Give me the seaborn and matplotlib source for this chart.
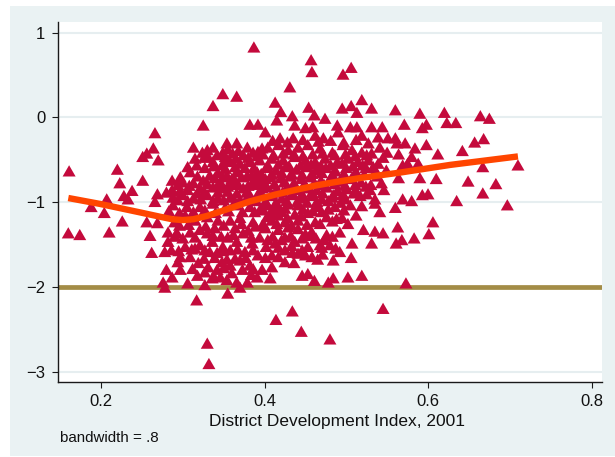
import matplotlib
matplotlib.use("Agg")
import matplotlib.pyplot as plt
import pandas as pd
import seaborn as sns
from matplotlib.markers import MarkerStyle
from matplotlib.patches import Rectangle
from matplotlib.path import Path

# ---------------------------------------------------------------------------
# District scatter: development index (x) against outcome (y), by area of the cloud
# ---------------------------------------------------------------------------
west_x = [0.161, 0.160, 0.174, 0.188, 0.204, 0.207, 0.210, 0.220, 0.223, 0.226,
          0.228, 0.233, 0.238, 0.251, 0.251, 0.256, 0.264, 0.266, 0.270, 0.260,
          0.262, 0.278, 0.280, 0.287, 0.276, 0.278, 0.256, 0.269]
west_y = [-0.63, -1.36, -1.38, -1.05, -1.12, -0.96, -1.35, -0.61, -0.77, -1.22,
          -0.92, -0.96, -0.86, -0.46, -0.74, -0.42, -0.36, -0.18, -0.50, -1.39,
          -1.59, -1.58, -1.79, -1.88, -1.94, -2.00, -1.23, -1.24]

top_x = [0.387, 0.457, 0.458, 0.506, 0.496, 0.431, 0.337, 0.349, 0.366, 0.325,
         0.382, 0.392, 0.413, 0.420, 0.415, 0.454, 0.461, 0.474, 0.434, 0.437,
         0.495, 0.506, 0.519, 0.513, 0.531]
top_y = [0.83, 0.68, 0.54, 0.59, 0.51, 0.36, 0.14, 0.28, 0.25, -0.09,
         -0.08, -0.08, 0.18, 0.07, -0.03, 0.12, 0.03, -0.01, 0.02, -0.09,
         0.11, 0.14, 0.21, 0.06, 0.11]

core_nw_x = [0.313, 0.324, 0.315, 0.317, 0.337, 0.354, 0.366, 0.379, 0.342, 0.349,
             0.361, 0.374, 0.386, 0.397, 0.337, 0.348, 0.358, 0.370, 0.382, 0.394,
             0.287, 0.300, 0.313, 0.325, 0.333, 0.343, 0.354, 0.366, 0.379, 0.391,
             0.337, 0.349, 0.361, 0.374, 0.386, 0.397, 0.269, 0.287, 0.288, 0.300,
             0.313, 0.330, 0.343, 0.358, 0.370, 0.382, 0.327, 0.309, 0.306, 0.321,
             0.354, 0.376, 0.388, 0.364, 0.346, 0.401, 0.331]
core_nw_y = [-0.35, -0.41, -0.48, -0.56, -0.35, -0.30, -0.30, -0.35, -0.44, -0.41,
             -0.42, -0.44, -0.41, -0.36, -0.52, -0.56, -0.52, -0.54, -0.52, -0.50,
             -0.74, -0.76, -0.77, -0.74, -0.68, -0.65, -0.68, -0.64, -0.68, -0.64,
             -0.82, -0.83, -0.79, -0.83, -0.79, -0.83, -0.90, -0.85, -0.94, -0.91,
             -0.95, -0.91, -0.95, -0.94, -0.97, -0.91, -0.59, -0.64, -0.85, -0.83,
             -0.50, -0.59, -0.72, -0.74, -0.76, -0.72, -0.46]

nw_fill_x = [0.330, 0.355, 0.368, 0.392,
             0.326, 0.352, 0.365, 0.380, 0.391,
             0.306, 0.338, 0.352, 0.364, 0.387,
             0.297, 0.318, 0.339, 0.349, 0.360, 0.372, 0.384, 0.396,
             0.294, 0.308, 0.330, 0.343, 0.355, 0.368, 0.380, 0.392,
             0.280, 0.296, 0.318, 0.327, 0.343, 0.355, 0.366, 0.378, 0.392,
             0.294, 0.306, 0.322, 0.337, 0.350, 0.364, 0.377, 0.390]
nw_fill_y = [-0.38, -0.37, -0.39, -0.40,
             -0.47, -0.46, -0.48, -0.47, -0.45,
             -0.58, -0.57, -0.60, -0.58, -0.59,
             -0.70, -0.69, -0.71, -0.70, -0.72, -0.70, -0.69, -0.71,
             -0.79, -0.80, -0.78, -0.79, -0.81, -0.79, -0.80, -0.78,
             -0.88, -0.87, -0.89, -0.88, -0.88, -0.87, -0.89, -0.88, -0.90,
             -0.97, -0.98, -0.96, -0.98, -0.97, -0.99, -0.97, -0.98]

core_sw_x = [0.266, 0.288, 0.305, 0.321, 0.337, 0.352, 0.366, 0.382, 0.394, 0.330,
             0.343, 0.358, 0.370, 0.386, 0.282, 0.293, 0.300, 0.309, 0.330, 0.282,
             0.321, 0.336, 0.342, 0.349, 0.355, 0.366, 0.374, 0.385, 0.394, 0.348,
             0.358, 0.370, 0.382, 0.392, 0.397, 0.309, 0.319, 0.331, 0.297, 0.327,
             0.342, 0.360, 0.354, 0.297, 0.294, 0.306, 0.327, 0.336, 0.346, 0.366,
             0.370, 0.379, 0.391, 0.315, 0.303, 0.290, 0.339, 0.364, 0.380, 0.315,
             0.333, 0.358, 0.376, 0.303, 0.321, 0.397, 0.388]
core_sw_y = [-0.99, -1.03, -1.05, -1.05, -1.01, -1.06, -1.03, -1.05, -1.09, -1.17,
             -1.21, -1.21, -1.18, -1.23, -1.35, -1.36, -1.42, -1.35, -1.36, -1.46,
             -1.50, -1.46, -1.59, -1.52, -1.41, -1.46, -1.36, -1.48, -1.41, -1.70,
             -1.74, -1.68, -1.74, -1.62, -1.79, -1.64, -1.71, -1.76, -1.79, -1.82,
             -1.79, -1.83, -1.91, -1.64, -1.70, -1.95, -1.97, -1.89, -1.88, -1.94,
             -2.00, -1.94, -1.88, -1.21, -1.15, -1.23, -1.30, -1.30, -1.33, -1.54,
             -1.58, -1.56, -1.58, -1.52, -1.32, -1.27, -1.11]

sw_fill_x = [0.283, 0.296, 0.313, 0.327, 0.340, 0.356, 0.373,
             0.296, 0.307, 0.328, 0.350, 0.372, 0.389,
             0.290, 0.315, 0.337, 0.347, 0.362, 0.384,
             0.286, 0.295, 0.311, 0.327, 0.349, 0.367, 0.386,
             0.326, 0.339, 0.354, 0.364, 0.377,
             0.312, 0.350, 0.373, 0.386,
             0.318, 0.338, 0.384]
sw_fill_y = [-1.10, -1.12, -1.11, -1.09, -1.12, -1.10, -1.11,
             -1.27, -1.26, -1.28, -1.27, -1.25, -1.28,
             -1.40, -1.41, -1.39, -1.40, -1.38, -1.41,
             -1.56, -1.57, -1.55, -1.56, -1.57, -1.55, -1.56,
             -1.66, -1.65, -1.67, -1.66, -1.65,
             -1.78, -1.77, -1.79, -1.78,
             -1.86, -1.87, -1.85]

core_ne_x = [0.401, 0.419, 0.435, 0.450, 0.459, 0.462, 0.472, 0.489, 0.490, 0.505,
             0.513, 0.519, 0.531, 0.544, 0.539, 0.551,
             0.404, 0.417, 0.429, 0.441, 0.453, 0.468, 0.483, 0.496, 0.507, 0.519,
             0.531, 0.541, 0.550,
             0.409, 0.423, 0.437, 0.450, 0.462, 0.474, 0.489, 0.502, 0.514, 0.527,
             0.539,
             0.402, 0.414, 0.426, 0.439, 0.451, 0.463, 0.475, 0.487, 0.500, 0.512,
             0.524, 0.536, 0.549,
             0.407, 0.420, 0.432, 0.445, 0.457, 0.469, 0.481, 0.494, 0.506, 0.518,
             0.530, 0.543,
             0.403, 0.415, 0.428, 0.440, 0.452, 0.464, 0.476, 0.489, 0.501, 0.513,
             0.529, 0.546,
             0.409, 0.421, 0.434, 0.446, 0.458, 0.470, 0.483, 0.499, 0.517, 0.535]
core_ne_y = [-0.17, -0.24, -0.24, -0.12, -0.11, -0.21, -0.24, -0.09, -0.17, -0.11,
             -0.11, -0.21, -0.11, -0.11, -0.23, -0.24,
             -0.35, -0.32, -0.38, -0.35, -0.32, -0.36, -0.41, -0.32, -0.38, -0.41,
             -0.42, -0.35, -0.41,
             -0.48, -0.50, -0.46, -0.50, -0.52, -0.48, -0.52, -0.48, -0.52, -0.50,
             -0.54,
             -0.59, -0.62, -0.58, -0.61, -0.58, -0.62, -0.59, -0.63, -0.59, -0.64,
             -0.59, -0.63, -0.62,
             -0.70, -0.71, -0.69, -0.72, -0.70, -0.74, -0.71, -0.75, -0.72, -0.76,
             -0.79, -0.77,
             -0.82, -0.84, -0.81, -0.85, -0.83, -0.85, -0.82, -0.86, -0.84, -0.88,
             -0.85, -0.85,
             -0.92, -0.95, -0.91, -0.95, -0.92, -0.96, -0.94, -0.96, -0.92, -0.96]

ne_fill_x = [0.410, 0.428, 0.447, 0.466, 0.481, 0.497, 0.512, 0.527,
             0.398, 0.411, 0.423, 0.436, 0.447, 0.459, 0.471, 0.486, 0.499, 0.511,
             0.525, 0.545,
             0.404, 0.417, 0.430, 0.444, 0.457, 0.469, 0.481, 0.495, 0.508, 0.520,
             0.533,
             0.396, 0.409, 0.421, 0.433, 0.446, 0.458, 0.470, 0.483, 0.497, 0.509,
             0.522, 0.538,
             0.400, 0.412, 0.424, 0.436, 0.449, 0.461, 0.473, 0.486, 0.498, 0.511,
             0.524,
             0.396, 0.409, 0.422, 0.434, 0.446, 0.458, 0.471, 0.484, 0.496, 0.509,
             0.525,
             0.401, 0.414, 0.427, 0.440, 0.452, 0.464, 0.478, 0.493]
ne_fill_y = [-0.27, -0.29, -0.26, -0.28, -0.27, -0.29, -0.26, -0.30,
             -0.43, -0.44, -0.42, -0.43, -0.45, -0.43, -0.42, -0.44, -0.43, -0.45,
             -0.44, -0.47,
             -0.56, -0.55, -0.57, -0.56, -0.55, -0.57, -0.56, -0.54, -0.57, -0.56,
             -0.58,
             -0.66, -0.67, -0.65, -0.66, -0.67, -0.66, -0.65, -0.67, -0.66, -0.68,
             -0.67, -0.69,
             -0.77, -0.78, -0.76, -0.77, -0.78, -0.77, -0.79, -0.78, -0.80, -0.79,
             -0.81,
             -0.89, -0.90, -0.88, -0.89, -0.90, -0.88, -0.89, -0.91, -0.90, -0.89,
             -0.90,
             -0.99, -1.00, -0.98, -0.99, -1.00, -0.99, -0.98, -1.00]

core_se_x = [0.404, 0.417, 0.429, 0.441, 0.465, 0.486, 0.505, 0.519, 0.535,
             0.407, 0.421, 0.437, 0.541,
             0.409, 0.425, 0.441, 0.483, 0.495, 0.502,
             0.401, 0.417, 0.429, 0.441, 0.450, 0.458, 0.476, 0.521, 0.535, 0.545,
             0.404, 0.413, 0.421, 0.437, 0.446, 0.468, 0.473, 0.507, 0.531,
             0.446, 0.453, 0.487, 0.492,
             0.401, 0.409, 0.417, 0.450, 0.458, 0.465, 0.506,
             0.425, 0.436, 0.484,
             0.407, 0.409, 0.446, 0.453, 0.502, 0.519,
             0.461, 0.478, 0.484,
             0.432, 0.462, 0.470, 0.453, 0.512, 0.492, 0.425, 0.434, 0.480, 0.417]
core_se_y = [-1.03, -1.05, -1.02, -1.03, -1.05, -1.05, -1.03, -1.04, -1.01,
             -1.12, -1.11, -1.14, -1.11,
             -1.21, -1.23, -1.21, -1.22, -1.18, -1.25,
             -1.30, -1.32, -1.29, -1.31, -1.37, -1.35, -1.38, -1.32, -1.34, -1.36,
             -1.44, -1.48, -1.44, -1.46, -1.42, -1.50, -1.44, -1.48, -1.48,
             -1.56, -1.52, -1.54, -1.58,
             -1.65, -1.62, -1.64, -1.62, -1.64, -1.67, -1.65,
             -1.70, -1.71, -1.68,
             -1.89, -1.76, -1.86, -1.84, -1.88, -1.86,
             -1.92, -1.94, -1.89,
             -1.39, -1.23, -1.11, -1.12, -1.15, -1.35, -1.56, -1.59, -1.50, -1.15]

se_fill_x = [0.398, 0.411, 0.425, 0.447, 0.459, 0.478, 0.497,
             0.403, 0.428, 0.445, 0.476, 0.488,
             0.399, 0.415, 0.433, 0.452, 0.468,
             0.410, 0.425, 0.455, 0.463, 0.483,
             0.402, 0.417, 0.433, 0.470,
             0.441, 0.471]
se_fill_y = [-1.08, -1.09, -1.07, -1.08, -1.10, -1.08, -1.09,
             -1.17, -1.18, -1.16, -1.17, -1.19,
             -1.26, -1.25, -1.27, -1.26, -1.25,
             -1.40, -1.41, -1.39, -1.42, -1.40,
             -1.52, -1.53, -1.51, -1.53,
             -1.60, -1.61]

east_x = [0.560, 0.590, 0.620, 0.664, 0.675, 0.571, 0.593, 0.598, 0.623, 0.634,
          0.560, 0.562, 0.572, 0.584, 0.598, 0.612, 0.642, 0.657, 0.668, 0.564,
          0.580, 0.575, 0.569, 0.588, 0.710, 0.667, 0.590, 0.610, 0.649, 0.683,
          0.564, 0.667, 0.593, 0.600, 0.569, 0.580, 0.635, 0.697, 0.560, 0.606,
          0.563, 0.568, 0.561, 0.583, 0.601]
east_y = [0.09, 0.05, 0.06, 0.02, -0.01, -0.08, -0.12, -0.08, -0.06, -0.06,
          -0.24, -0.30, -0.30, -0.36, -0.32, -0.43, -0.39, -0.29, -0.25, -0.43,
          -0.46, -0.54, -0.56, -0.54, -0.56, -0.58, -0.71, -0.72, -0.75, -0.78,
          -0.71, -0.89, -0.91, -0.90, -0.96, -0.98, -0.98, -1.03, -1.06, -1.23,
          -1.29, -1.44, -1.48, -1.42, -1.37]

south_x = [0.317, 0.330, 0.332, 0.355, 0.414, 0.434, 0.445, 0.480, 0.545, 0.573]
south_y = [-2.15, -2.66, -2.90, -2.07, -2.38, -2.28, -2.52, -2.61, -2.25, -1.95]

# Lowess smooth (bandwidth .8)
lowess_x = [0.160, 0.199, 0.248, 0.272, 0.287, 0.300, 0.313, 0.330, 0.352,
            0.382, 0.413, 0.440, 0.464, 0.488, 0.520, 0.566, 0.627, 0.710]
lowess_y = [-0.95, -1.02, -1.12, -1.17, -1.20, -1.21, -1.20, -1.16, -1.09,
            -0.99, -0.91, -0.85, -0.80, -0.76, -0.71, -0.65, -0.56, -0.46]

reference_level = -2.0

x_ticks = [0.2, 0.4, 0.6, 0.8]
x_tick_labels = ["0.2", "0.4", "0.6", "0.8"]
y_ticks = [1, 0, -1, -2, -3]
y_tick_labels = ["1", "0", "\u22121", "\u22122", "\u22123"]

x_title = "District Development Index, 2001"
note = "bandwidth = .8"

# ---------------------------------------------------------------------------
groups = [(west_x, west_y), (top_x, top_y),
          (core_nw_x, core_nw_y), (nw_fill_x, nw_fill_y),
          (core_sw_x, core_sw_y), (sw_fill_x, sw_fill_y),
          (core_ne_x, core_ne_y), (ne_fill_x, ne_fill_y),
          (core_se_x, core_se_y), (se_fill_x, se_fill_y),
          (east_x, east_y), (south_x, south_y)]
df = pd.concat([pd.DataFrame({"ddi": gx, "gap": gy}) for gx, gy in groups],
               ignore_index=True)
smooth = pd.DataFrame({"ddi": lowess_x, "gap": lowess_y})

sns.set_style("white")
plt.rcParams["font.family"] = ["Liberation Sans", "DejaVu Sans"]
plt.rcParams["axes.unicode_minus"] = True

W, H = 615, 457
fig = plt.figure(figsize=(W / 100, H / 100), dpi=100)
fig.patch.set_facecolor("white")
fig.add_artist(Rectangle((10 / W, 1 / H), 605 / W, 450 / H,
                         transform=fig.transFigure, facecolor="#eaf2f3",
                         edgecolor="none", zorder=0))

ax = fig.add_axes([57.5 / W, 75 / H, 544.5 / W, 360 / H])
ax.set_facecolor("white")
ax.set_xlim(0.1468, 0.8128)
ax.set_ylim(-3.118, 1.124)

ax.set_yticks(y_ticks)
ax.set_yticklabels(y_tick_labels)
ax.set_xticks(x_ticks)
ax.set_xticklabels(x_tick_labels)
ax.yaxis.grid(True, color="#e6eef0", lw=1.5)
ax.xaxis.grid(False)
ax.set_axisbelow(True)

ax.axhline(reference_level, color="#a38c46", lw=3.4, zorder=1.5)

tri = MarkerStyle(Path([(-1, -0.866), (1, -0.866), (0, 0.866), (-1, -0.866)],
                       [Path.MOVETO, Path.LINETO, Path.LINETO, Path.CLOSEPOLY]))
sns.scatterplot(data=df, x="ddi", y="gap", marker=tri, s=88, color="#c40a3c",
                linewidth=0, edgecolor="none", ax=ax, zorder=2, legend=False)

sns.lineplot(data=smooth, x="ddi", y="gap", color="#ff4500", lw=4.6, sort=False,
             estimator=None, ax=ax, zorder=3, solid_capstyle="butt",
             solid_joinstyle="round")

for side in ("top", "right"):
    ax.spines[side].set_visible(False)
for side in ("left", "bottom"):
    ax.spines[side].set_color("#1a1a1a")
    ax.spines[side].set_linewidth(1.0)

ax.tick_params(axis="both", direction="out", length=4.3, width=0.8,
               color="#1a1a1a", labelsize=12, labelcolor="#111111", pad=4.5,
               left=True, bottom=True)

ax.set_ylabel("")
ax.set_xlabel(x_title, fontsize=12.5, color="#111111")
ax.xaxis.set_label_coords(0.513, -0.088)

fig.text(60 / W, (H - 442) / H, note, fontsize=10.9, color="#111111",
         va="baseline", ha="left")

fig.savefig("out.png", dpi=100)
